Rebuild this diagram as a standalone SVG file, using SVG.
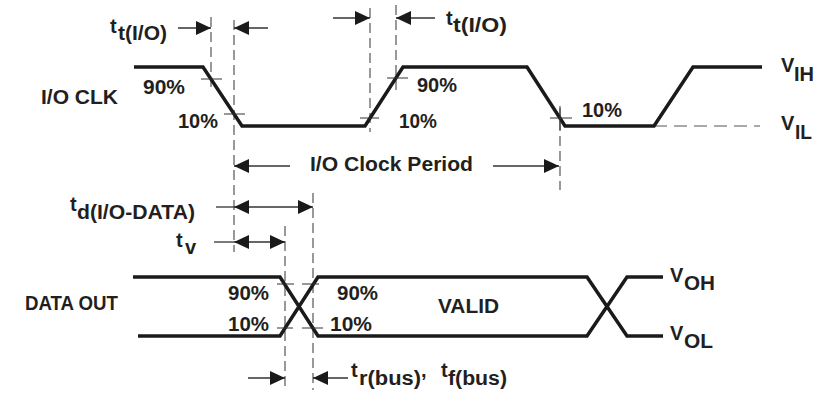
<svg xmlns="http://www.w3.org/2000/svg" width="814" height="395" viewBox="0 0 814 395">
<style>
.wave{fill:none;stroke:#1a1a1a;stroke-width:3.5;stroke-linejoin:miter}
.guide{fill:none;stroke:#555;stroke-width:1.2;stroke-dasharray:10 5}
.tick{fill:none;stroke:#333;stroke-width:1}
.dim{fill:none;stroke:#333;stroke-width:1.3}
.lbl{font-family:"Liberation Sans",Arial,sans-serif;font-weight:bold;font-size:20px;fill:#231f20}
.sub{font-family:"Liberation Sans",Arial,sans-serif;font-weight:bold;font-size:20px;fill:#231f20}
</style>
<defs>
<marker id="ah" viewBox="0 0 15 14" refX="15" refY="7" markerWidth="15" markerHeight="14" markerUnits="userSpaceOnUse" orient="auto-start-reverse">
<path d="M0,0 L15,7 L0,14 z" fill="#1a1a1a"/>
</marker>
</defs>
<rect width="814" height="395" fill="#fff"/>
<g id="guides">
<line class="guide" x1="211" y1="17" x2="211" y2="92"/>
<line class="guide" x1="234" y1="20" x2="234" y2="252"/>
<line class="guide" x1="370" y1="8" x2="370" y2="132"/>
<line class="guide" x1="396" y1="5" x2="396" y2="92"/>
<line class="guide" x1="560" y1="106" x2="560" y2="190"/>
<line class="guide" x1="313" y1="193" x2="313" y2="390"/>
<line class="guide" x1="285" y1="226" x2="285" y2="390"/>
<line class="guide" x1="654" y1="126" x2="760" y2="126" style="stroke-dasharray:13 7"/>
</g>
<g id="io-clk">
<path class="wave" d="M134,67 H203 L242,126 H365 L403,67 H527 L565,126 H654 L693,67 H762"/>
<path class="tick" d="M201,79 H222 M224,114 H245 M360,118 H379 M387,78 H408 M550,118 H572 M560,108 V130"/>
</g>
<g id="data-out">
<path class="wave" d="M133,277 H280 L318,336 H587 L627,277 H663"/>
<path class="wave" d="M138,336 H280 L318,277 H587 L627,336 H663"/>
<path class="tick" d="M277,284 H294 M302,284 H319 M277,328 H293 M302,328 H323"/>
</g>
<g id="connectors">
<line class="dim" x1="178" y1="28" x2="211" y2="28" marker-end="url(#ah)"/>
<line class="dim" x1="268" y1="28" x2="234" y2="28" marker-end="url(#ah)"/>
<line class="dim" x1="333" y1="18" x2="370" y2="18" marker-end="url(#ah)"/>
<line class="dim" x1="435" y1="18" x2="396" y2="18" marker-end="url(#ah)"/>
<line class="dim" x1="290" y1="166" x2="234" y2="166" marker-end="url(#ah)"/>
<line class="dim" x1="493" y1="166" x2="559" y2="166" marker-end="url(#ah)"/>
<line class="dim" x1="216" y1="207" x2="234" y2="207"/>
<line class="dim" x1="234" y1="207" x2="313" y2="207" marker-start="url(#ah)" marker-end="url(#ah)"/>
<line class="dim" x1="214" y1="242" x2="234" y2="242"/>
<line class="dim" x1="234" y1="242" x2="285" y2="242" marker-start="url(#ah)" marker-end="url(#ah)"/>
<line class="dim" x1="248" y1="378" x2="285" y2="378" marker-end="url(#ah)"/>
<line class="dim" x1="348" y1="378" x2="313" y2="378" marker-end="url(#ah)"/>
</g>
<g id="labels">
<text class="lbl" x="41" y="104" textLength="77" lengthAdjust="spacingAndGlyphs">I/O CLK</text>
<text class="lbl" x="143" y="94" textLength="42" lengthAdjust="spacingAndGlyphs">90%</text>
<text class="lbl" x="178" y="128" textLength="40" lengthAdjust="spacingAndGlyphs">10%</text>
<text class="lbl" x="417" y="92" textLength="40" lengthAdjust="spacingAndGlyphs">90%</text>
<text class="lbl" x="399" y="128" textLength="38" lengthAdjust="spacingAndGlyphs">10%</text>
<text class="lbl" x="582" y="117" textLength="40" lengthAdjust="spacingAndGlyphs">10%</text>
<text class="lbl" x="781" y="72">V</text>
<text class="sub" x="794" y="81" textLength="20" lengthAdjust="spacingAndGlyphs">IH</text>
<text class="lbl" x="781" y="130">V</text>
<text class="sub" x="795" y="139" textLength="17" lengthAdjust="spacingAndGlyphs">IL</text>
<text class="lbl" x="310" y="171" textLength="163" lengthAdjust="spacingAndGlyphs">I/O Clock Period</text>
<text class="lbl" x="110" y="33">t</text>
<text class="sub" x="118" y="40" textLength="49" lengthAdjust="spacingAndGlyphs">t(I/O)</text>
<text class="lbl" x="446" y="25">t</text>
<text class="sub" x="453" y="32" textLength="54" lengthAdjust="spacingAndGlyphs">t(I/O)</text>
<text class="lbl" x="70" y="211">t</text>
<text class="sub" x="77" y="219" textLength="118" lengthAdjust="spacingAndGlyphs">d(I/O-DATA)</text>
<text class="lbl" x="176" y="247">t</text>
<text class="sub" x="185" y="254">v</text>
<text class="lbl" x="25" y="310" textLength="93" lengthAdjust="spacingAndGlyphs">DATA OUT</text>
<text class="lbl" x="228" y="300" textLength="41" lengthAdjust="spacingAndGlyphs">90%</text>
<text class="lbl" x="228" y="331" textLength="41" lengthAdjust="spacingAndGlyphs">10%</text>
<text class="lbl" x="337" y="300" textLength="41" lengthAdjust="spacingAndGlyphs">90%</text>
<text class="lbl" x="330" y="331" textLength="42" lengthAdjust="spacingAndGlyphs">10%</text>
<text class="lbl" x="438" y="313" textLength="61" lengthAdjust="spacingAndGlyphs">VALID</text>
<text class="lbl" x="670" y="282">V</text>
<text class="sub" x="684" y="290" textLength="31" lengthAdjust="spacingAndGlyphs">OH</text>
<text class="lbl" x="670" y="340">V</text>
<text class="sub" x="684" y="348" textLength="29" lengthAdjust="spacingAndGlyphs">OL</text>
<text class="lbl" x="351" y="377">t</text>
<text class="sub" x="359" y="385" textLength="62" lengthAdjust="spacingAndGlyphs">r(bus)</text>
<text class="lbl" x="421" y="377">,</text>
<text class="lbl" x="441" y="377">t</text>
<text class="sub" x="448" y="385" textLength="59" lengthAdjust="spacingAndGlyphs">f(bus)</text>
</g>
</svg>
